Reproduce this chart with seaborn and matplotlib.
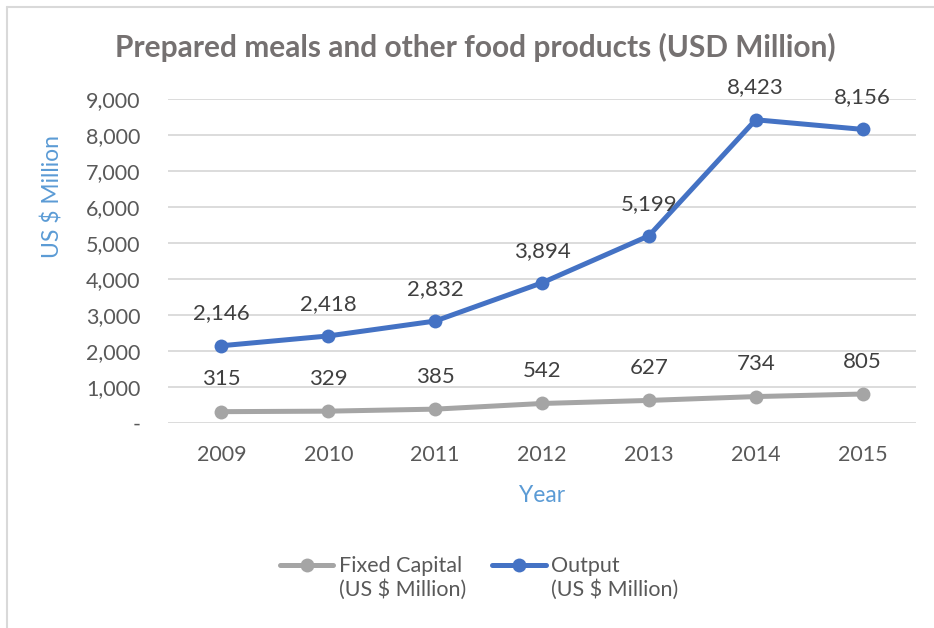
import pandas as pd
import matplotlib
matplotlib.use('Agg')
import matplotlib.pyplot as plt
from matplotlib.legend_handler import HandlerLine2D
import seaborn as sns

years = ['2009', '2010', '2011', '2012', '2013', '2014', '2015']
fixed_capital = [315, 329, 385, 542, 627, 734, 805]
output = [2146, 2418, 2832, 3894, 5199, 8423, 8156]
series_names = ['Fixed Capital\n(US $ Million)', 'Output\n(US $ Million)']

sns.set_style('white')
plt.rcParams['font.family'] = ['Lato', 'DejaVu Sans']

df = pd.DataFrame({
    'Year': years * 2,
    'Value': fixed_capital + output,
    'Series': [series_names[0]] * len(years) + [series_names[1]] * len(years),
})

fig = plt.figure(figsize=(9.34, 6.28), dpi=100)
ax = fig.add_axes([168 / 934, 1 - 423 / 628, (916 - 168) / 934, (423 - 99) / 628])

palette = {series_names[0]: '#A5A5A5', series_names[1]: '#4472C4'}
sns.lineplot(data=df, x='Year', y='Value', hue='Series', hue_order=series_names,
             palette=palette, marker='o', markersize=10, markeredgewidth=0,
             linewidth=3.6, ax=ax, sort=False)

# data labels
for vals in (fixed_capital, output):
    for i, v in enumerate(vals):
        ax.annotate(f'{v:,}', (i, v), xytext=(0, 16), textcoords='offset points',
                    ha='center', va='bottom', fontsize=16, color='#404040')

ax.set_xlim(-0.5, len(years) - 0.5)
ax.set_ylim(0, 9000)
ax.set_yticks(range(0, 9001, 1000))
ax.set_yticklabels(['-'] + [f'{v:,}' for v in range(1000, 9001, 1000)])
ax.yaxis.grid(True, color='#D9D9D9', linewidth=1.3)
ax.set_axisbelow(True)
for s in ax.spines.values():
    s.set_visible(False)
ax.tick_params(axis='both', length=0, labelsize=15.5, labelcolor='#595959')
ax.tick_params(axis='y', pad=20)
ax.tick_params(axis='x', pad=16)
ax.set_xlabel('Year', fontsize=16.5, color='#5B9BD5', labelpad=14)
ax.set_ylabel('')
fig.text(52 / 934, 1 - 197 / 628, 'US $ Million', rotation=90, ha='center', va='center',
         fontsize=16.5, color='#5B9BD5')

fig.suptitle('Prepared meals and other food products (USD Million)', x=475 / 934, y=1 - 47 / 628,
             va='center', fontsize=21.5, fontweight='bold', color='#757171')


class TopLine(HandlerLine2D):
    # put the legend line level with the first line of the label
    def create_artists(self, legend, orig_handle, xdescent, ydescent, width, height,
                       fontsize, trans):
        return super().create_artists(legend, orig_handle, xdescent, ydescent - 20,
                                      width, height, fontsize, trans)


handles, labels = ax.get_legend_handles_labels()
ax.get_legend().remove()
fig.legend(handles, labels, loc='center', bbox_to_anchor=(479 / 934, 1 - 578 / 628), ncol=2,
           frameon=False, fontsize=15.5, labelcolor='#595959', handlelength=2.5,
           handletextpad=0.25, columnspacing=1.2,
           handler_map={h: TopLine() for h in handles})

# chart border (top and left only visible)
fig.add_artist(plt.Line2D([7 / 934, 1], [1 - 7 / 628] * 2, color='#D9D9D9', linewidth=1.5))
fig.add_artist(plt.Line2D([7 / 934] * 2, [0, 1 - 7 / 628], color='#D9D9D9', linewidth=1.5))

fig.savefig('out.png', dpi=100)
